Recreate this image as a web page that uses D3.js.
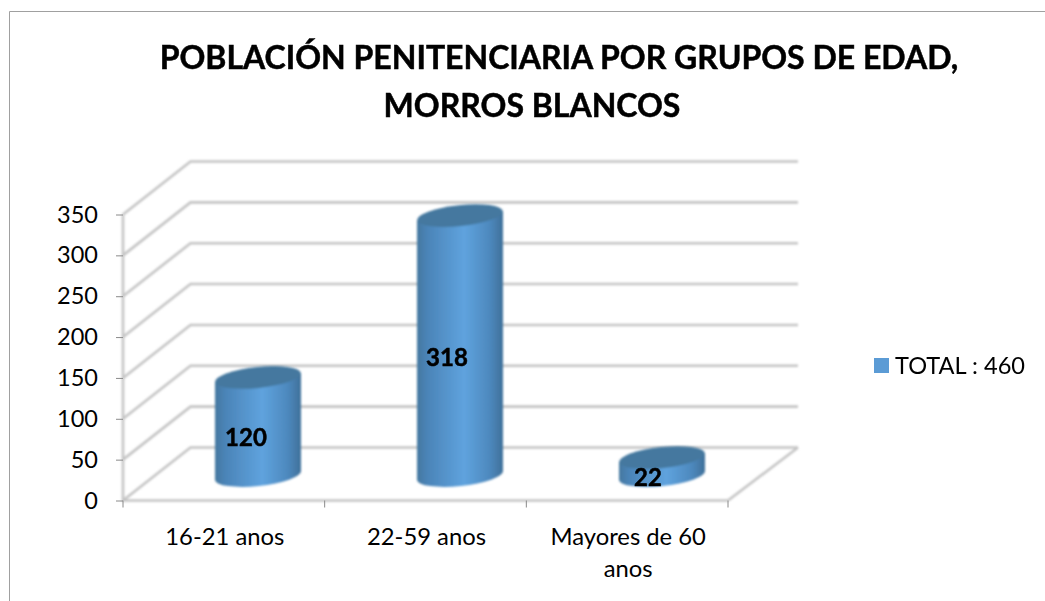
<!DOCTYPE html>
<meta charset="utf-8">
<script src="https://d3js.org/d3.v7.min.js"></script>
<style>
  body { margin: 0; background: #fff; }
  text { font-family: "Lato", sans-serif; fill: #000; }
</style>
<body>
<div id="my_dataviz"></div>
<script>
  var categories = ["16-21 anos", "22-59 anos", "Mayores de 60 anos"];
  var values = [120, 318, 22];
  var yTicks = [0, 50, 100, 150, 200, 250, 300, 350];
  var titleLines = ["POBLACIÓN PENITENCIARIA POR GRUPOS DE EDAD,", "MORROS BLANCOS"];
  var legendLabel = "TOTAL : 460";

  var width = 1045, height = 601;
  var depth = {x: 67.5, y: -53};   // offset front plane -> back wall
  var backRight = 798;

  var svg = d3.select("#my_dataviz").append("svg")
    .attr("width", width).attr("height", height)
    .style("display", "block");

  var x = d3.scaleBand().domain(categories).range([123, 728]);
  // bars stand half way between the front edge and the back wall
  var xBar = d3.scaleBand().domain(categories).range([157, 763]);
  var y = d3.scaleLinear().domain([0, 350]).range([500.5, 214.5]);

  var defs = svg.append("defs");
  var side = defs.append("linearGradient").attr("id", "side");
  side.append("stop").attr("offset", "0%").attr("stop-color", "#44789f");
  side.append("stop").attr("offset", "12%").attr("stop-color", "#4b84b8");
  side.append("stop").attr("offset", "55%").attr("stop-color", "#5fa3de");
  side.append("stop").attr("offset", "85%").attr("stop-color", "#4d88bd");
  side.append("stop").attr("offset", "100%").attr("stop-color", "#3f7099");
  defs.append("filter").attr("id", "soft")
    .append("feGaussianBlur").attr("stdDeviation", 0.8);

  // chart frame, cut by the window on the right and bottom
  svg.append("path")
    .attr("d", "M9.5," + height + "V11.5H" + width)
    .attr("fill", "none").attr("stroke", "#a0a0a0");

  // back wall and side wall grid
  var grid = svg.append("g").attr("fill", "none").attr("filter", "url(#soft)")
    .attr("stroke", "#c4c4c4").attr("stroke-width", 2.6);
  grid.selectAll("path").data(yTicks).enter().append("path")
    .attr("d", function (d) {
      return "M" + x.range()[0] + "," + y(d) +
        "L" + (x.range()[0] + depth.x) + "," + (y(d) + depth.y) +
        "H" + backRight;
    });
  // floor right edge, left wall, front edge
  grid.append("path")
    .attr("d", "M" + x.range()[1] + "," + y(0) + "L" + backRight + "," + (y(0) + depth.y));
  grid.append("path")
    .attr("d", "M" + x.range()[0] + "," + y(350) + "V" + y(0) + "H" + x.range()[1]);

  // axes
  var yAxis = svg.append("g")
    .attr("transform", "translate(" + x.range()[0] + ",0)")
    .call(d3.axisLeft(y).tickValues(yTicks).tickSize(7).tickPadding(18));
  yAxis.select(".domain").remove();
  yAxis.selectAll("line").attr("stroke", "#8a8a8a");
  yAxis.selectAll("text").style("font-size", "23.5px").style("font-family", "Lato, sans-serif");

  var edges = categories.map(function (c) { return x(c); }).concat(x.range()[1]);
  svg.append("g").selectAll("line").data(edges).enter().append("line")
    .attr("x1", function (d) { return d; }).attr("x2", function (d) { return d; })
    .attr("y1", y(0)).attr("y2", y(0) + 7)
    .attr("stroke", "#8a8a8a");

  var catLabels = [["16-21 anos"], ["22-59 anos"], ["Mayores de 60", "anos"]];
  var labels = svg.append("g").selectAll("text").data(categories).enter().append("text")
    .attr("text-anchor", "middle")
    .style("font-size", "23.8px");
  labels.each(function (c, i) {
    d3.select(this).selectAll("tspan").data(catLabels[i]).enter().append("tspan")
      .attr("x", x(c) + x.bandwidth() / 2 + 1)
      .attr("y", function (d, j) { return 545 + j * 32; })
      .text(function (d) { return d; });
  });

  // cylinders
  var rx = 43, ry = 10.5, tilt = -6, baseLift = 25;
  var tiltDy = rx * Math.sin(-tilt * Math.PI / 180);
  var centre = function (c) { return xBar(c) + xBar.bandwidth() / 2; };

  var bars = svg.append("g").attr("filter", "url(#soft)")
    .selectAll("g").data(categories).enter().append("g");
  bars.append("path")
    .attr("fill", "url(#side)")
    .attr("d", function (c, i) {
      var cx = centre(c), b = y(0) - baseLift, t = y(values[i]) - baseLift;
      return "M" + (cx - rx) + "," + (t + tiltDy) +
        "L" + (cx - rx) + "," + (b + tiltDy) +
        "A" + rx + "," + ry + "," + tilt + ",0,0," + (cx + rx) + "," + (b - tiltDy) +
        "L" + (cx + rx) + "," + (t - tiltDy) + "Z";
    });
  bars.append("ellipse")
    .attr("rx", rx).attr("ry", ry)
    .attr("fill", "#44789f")
    .attr("transform", function (c, i) {
      return "translate(" + centre(c) + "," + (y(values[i]) - baseLift) + ") rotate(" + tilt + ")";
    });

  var valueOffset = [-12, -13, -14];
  var valueY = [446, 366, 486];
  svg.append("g").selectAll("text").data(values).enter().append("text")
    .attr("x", function (d, i) { return centre(categories[i]) + valueOffset[i]; })
    .attr("y", function (d, i) { return valueY[i]; })
    .attr("text-anchor", "middle")
    .attr("stroke", "#000").attr("stroke-width", 0.5)
    .style("font-size", "24px").style("font-weight", "700")
    .text(function (d) { return d; });

  // title
  var titleX = [559, 532];
  svg.append("g").selectAll("text").data(titleLines).enter().append("text")
    .attr("x", function (d, i) { return titleX[i]; })
    .attr("y", function (d, i) { return 69 + i * 48; })
    .attr("text-anchor", "middle")
    .attr("stroke", "#000").attr("stroke-width", 0.5)
    .style("font-size", "32px").style("font-weight", "700")
    .text(function (d) { return d; });

  // legend
  svg.append("rect").attr("x", 874).attr("y", 358).attr("width", 15).attr("height", 15)
    .attr("fill", "#5b9bd5");
  svg.append("text").attr("x", 895).attr("y", 373.5)
    .style("font-size", "23.6px").text(legendLabel);
</script>
</body>
</html>
